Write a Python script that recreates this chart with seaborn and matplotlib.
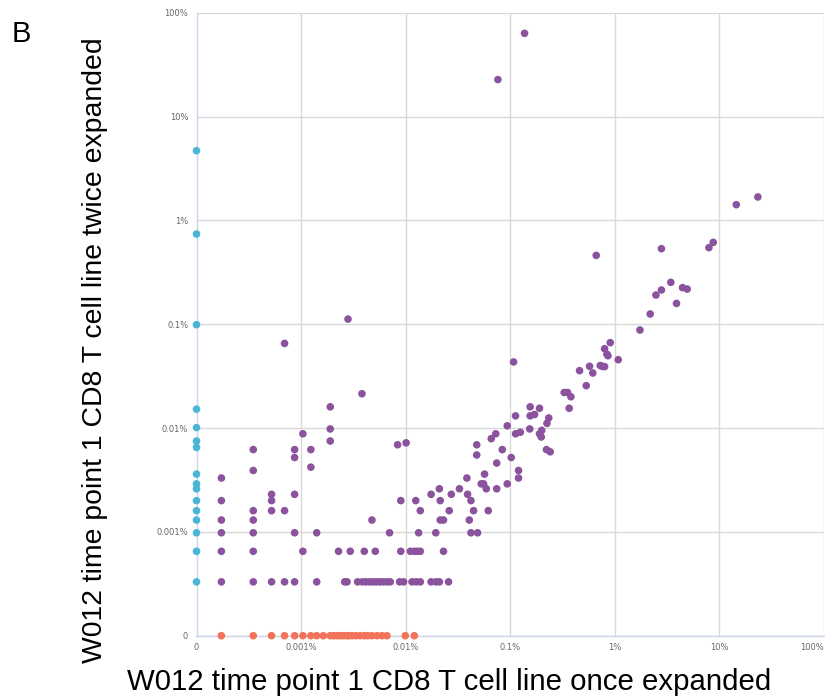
import numpy as np
import pandas as pd
import matplotlib
matplotlib.use("Agg")
import matplotlib.pyplot as plt
import seaborn as sns

# ---- data (percent of repertoire); 0 means not detected ----
blue_y = [4.69, 0.739, 0.0989, 0.0152, 0.0101, 0.0075, 0.0065, 0.0036, 0.0029,
          0.0026, 0.0020, 0.0016, 0.0013, 0.00098, 0.00065, 0.00033]

red_x = [0.000173, 0.000349, 0.000522, 0.000695, 0.000867, 0.00104, 0.00124,
         0.00141, 0.00163, 0.00190, 0.00205, 0.00220, 0.00237, 0.00255, 0.00275,
         0.00284, 0.00307, 0.00335, 0.00368, 0.00402, 0.00433, 0.00476, 0.00532,
         0.00593, 0.00662, 0.00991, 0.0121]

purple_x = [0.000173, 0.000173, 0.000173, 0.000173, 0.000173, 0.000173,
            0.000349, 0.000349, 0.000349, 0.000349, 0.000349, 0.000349, 0.000349,
            0.000522, 0.000522, 0.000522, 0.000522,
            0.000695, 0.000695, 0.000695,
            0.000867, 0.000867, 0.000867, 0.000867, 0.000867,
            0.00104, 0.00104, 0.00124, 0.00124, 0.00141, 0.00141,
            0.00190, 0.00190, 0.00190, 0.00228, 0.00261, 0.00275, 0.00281, 0.00295,
            0.00347, 0.00382, 0.00402,
            0.00385, 0.00416, 0.00449, 0.00484, 0.00524, 0.00565, 0.00611, 0.00662, 0.00712,
            0.00476, 0.00512, 0.00701, 0.00837, 0.00875, 0.00898, 0.00898, 0.00955,
            0.0101, 0.0111, 0.0115, 0.0121, 0.0125, 0.0126, 0.0129, 0.0138, 0.0133,
            0.0138, 0.0138, 0.0175, 0.0175, 0.0194, 0.0194, 0.0210, 0.0210, 0.0214,
            0.0214, 0.0230, 0.0230, 0.0257, 0.0261, 0.0273, 0.0327, 0.0385, 0.0391,
            0.0406, 0.0421, 0.0421, 0.0446, 0.0478, 0.0478, 0.0487, 0.0528, 0.0556,
            0.0568, 0.0590, 0.0616, 0.0658, 0.0727, 0.0742, 0.0742, 0.0762, 0.0839,
            0.0936, 0.0936, 0.1022, 0.1076, 0.1124, 0.1124, 0.120, 0.120, 0.1247,
            0.137, 0.1536, 0.155, 0.155, 0.1707, 0.1905, 0.1905, 0.200, 0.198,
            0.2244, 0.2334, 0.222, 0.241, 0.328, 0.353, 0.366, 0.380, 0.460, 0.533,
            0.573, 0.615, 0.664, 0.725, 0.758, 0.798, 0.798, 0.840, 0.859, 0.904,
            1.078, 1.739, 2.18, 2.47, 2.79, 2.79, 3.43, 3.89, 4.44, 4.92, 7.94,
            8.73, 14.5, 23.3]

purple_y = [0.0033, 0.0020, 0.0013, 0.00098, 0.00065, 0.00033,
            0.0062, 0.0039, 0.0016, 0.0013, 0.00098, 0.00065, 0.00033,
            0.0023, 0.0020, 0.0016, 0.00033,
            0.0653, 0.0016, 0.00033,
            0.0062, 0.0052, 0.0023, 0.00098, 0.00033,
            0.0088, 0.00065, 0.0062, 0.0042, 0.00098, 0.00033,
            0.0160, 0.0098, 0.0075, 0.00065, 0.00033, 0.00033, 0.112, 0.00065,
            0.00033, 0.0214, 0.00065,
            0.00033, 0.00033, 0.00033, 0.00033, 0.00033, 0.00033, 0.00033, 0.00033, 0.00033,
            0.0013, 0.00065, 0.00098, 0.0069, 0.00033, 0.00065, 0.0020, 0.00033,
            0.0072, 0.00065, 0.00033, 0.00065, 0.0020, 0.00033, 0.00065, 0.00065, 0.00098,
            0.0016, 0.00033, 0.0023, 0.00033, 0.00098, 0.00033, 0.0026, 0.00033, 0.0020,
            0.0013, 0.00065, 0.0013, 0.00033, 0.0016, 0.0023, 0.0026, 0.0033, 0.0023,
            0.0013, 0.0020, 0.00098, 0.0016, 0.0069, 0.0055, 0.00098, 0.0029, 0.0029,
            0.0036, 0.0026, 0.0016, 0.0079, 0.0088, 0.0046, 0.0026, 22.7, 0.0062,
            0.0105, 0.0029, 0.0052, 0.0433, 0.0131, 0.0088, 0.0039, 0.0033, 0.0091,
            63.3, 0.0098, 0.0160, 0.0131, 0.0135, 0.0155, 0.0088, 0.0095, 0.0082,
            0.0111, 0.0125, 0.0062, 0.0059, 0.0220, 0.0220, 0.0155, 0.0200, 0.0357, 0.0256,
            0.0393, 0.0339, 0.460, 0.040, 0.0393, 0.039, 0.0581, 0.0514, 0.0497, 0.0664,
            0.0455, 0.0879, 0.1254, 0.191, 0.2135, 0.534, 0.253, 0.1585, 0.225, 0.218, 0.546,
            0.614, 1.416, 1.68]

tick_vals = [0, 0.001, 0.01, 0.1, 1, 10, 100]
tick_labels = ["0", "0.001%", "0.01%", "0.1%", "1%", "10%", "100%"]

df = pd.concat([
    pd.DataFrame({"x": [0.0] * len(blue_y), "y": blue_y, "g": "only twice"}),
    pd.DataFrame({"x": purple_x, "y": purple_y, "g": "both"}),
    pd.DataFrame({"x": red_x, "y": [0.0] * len(red_x), "g": "only once"}),
], ignore_index=True)

palette = {"only twice": "#4bb5d6", "both": "#8b539d", "only once": "#f2735a"}

sns.set_style("white")

fig = plt.figure(figsize=(8.25, 6.96), dpi=100)
ax = fig.add_axes([196.5 / 825, (696 - 635.7) / 696, (824 - 196.5) / 825, (635.7 - 12.7) / 696])


def fwd(v):
    v = np.asarray(v, dtype=float)
    with np.errstate(divide="ignore", invalid="ignore"):
        return np.log10(np.maximum(v, 1e-4))


def inv(t):
    return np.power(10.0, t)


ax.set_xscale("function", functions=(fwd, inv))
ax.set_yscale("function", functions=(fwd, inv))

sns.scatterplot(data=df, x="x", y="y", hue="g", palette=palette, s=30,
                edgecolor="none", linewidth=0, legend=False, ax=ax,
                clip_on=False, zorder=5)

ax.set_xlim(0, 100)
ax.set_ylim(0, 100)
ax.set_xticks(tick_vals)
ax.set_yticks(tick_vals)
ax.set_xticklabels(tick_labels)
ax.set_yticklabels(tick_labels)
ax.xaxis.set_minor_locator(matplotlib.ticker.NullLocator())
ax.yaxis.set_minor_locator(matplotlib.ticker.NullLocator())
ax.tick_params(axis="both", length=0, labelsize=6, labelcolor="#666666")
ax.tick_params(axis="x", pad=5)
ax.tick_params(axis="y", pad=6)
xl = ax.get_xticklabels()
xl[-1].set_horizontalalignment("right")

ax.grid(True, color="#d9d9d9", linewidth=1.0)
ax.set_axisbelow(True)
for s in ["top", "right"]:
    ax.spines[s].set_visible(False)
for s in ["left", "bottom"]:
    ax.spines[s].set_color("#ccd6eb")
    ax.spines[s].set_linewidth(1.0)
ax.set_xlabel("")
ax.set_ylabel("")

fig.text(12 / 825, 1 - 42 / 696, "B", fontsize=21, family="Liberation Sans",
         va="baseline", ha="left", color="black")
fig.text(449.5 / 825, 6 / 696, "W012 time point 1 CD8 T cell line once expanded",
         fontsize=21.2, family="Liberation Sans", ha="center", va="baseline", color="black")
fig.text(95 / 825, 1 - 350 / 696, "W012 time point 1 CD8 T cell line twice expanded",
         fontsize=20.4, family="Liberation Sans", ha="center", va="center",
         rotation=90, color="black")

fig.savefig("out.png", dpi=100)
